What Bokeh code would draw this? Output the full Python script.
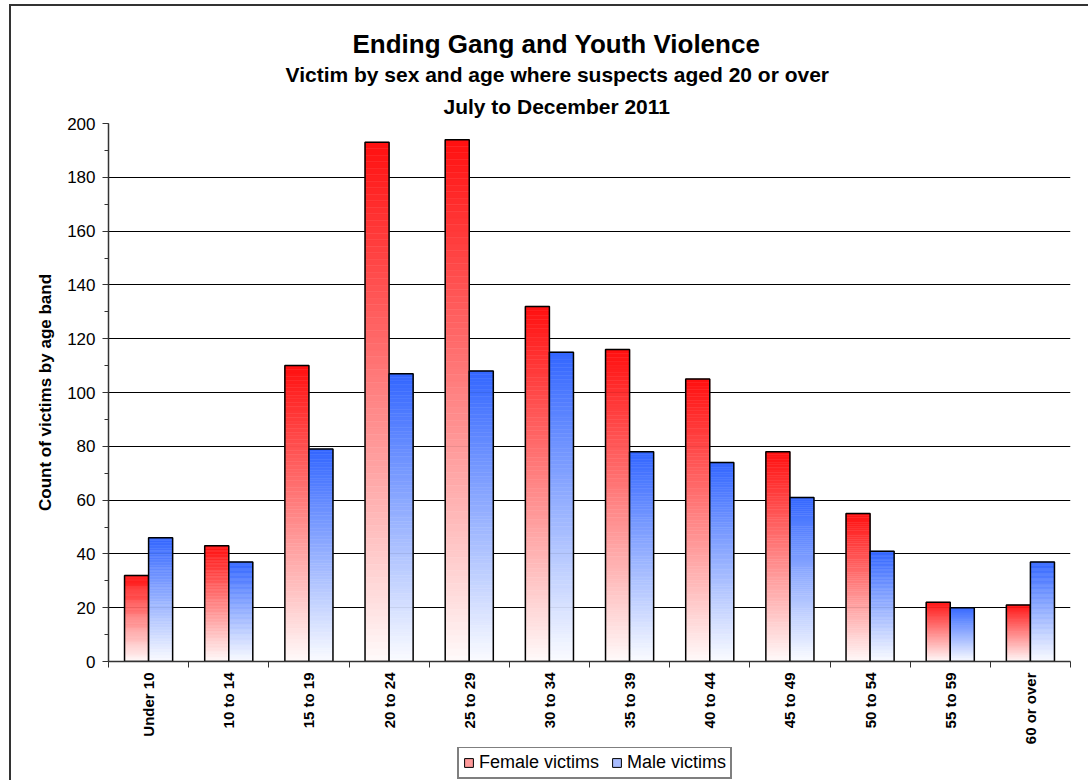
from bokeh.plotting import figure
from bokeh.models import (Range1d, FixedTicker, SingleIntervalTicker, Title, Legend,
                          LegendItem, ColumnDataSource)
from bokeh.layouts import column
from bokeh.embed import file_html
from bokeh.resources import INLINE
import math

# ---- data ----
categories = ["Under 10", "10 to 14", "15 to 19", "20 to 24", "25 to 29", "30 to 34",
              "35 to 39", "40 to 44", "45 to 49", "50 to 54", "55 to 59", "60 or over"]
female = [32, 43, 110, 193, 194, 132, 116, 105, 78, 55, 22, 21]
male = [46, 37, 79, 107, 108, 115, 78, 74, 61, 41, 20, 37]
series_names = ["Female victims", "Male victims"]
title_lines = ["Ending Gang and Youth Violence",
               "Victim by sex and age where suspects aged 20 or over",
               "July to December 2011"]
y_label = "Count of victims by age band"

FONT = "Liberation Sans"
RED = (255, 16, 16)
BLUE = (51, 102, 255)
WHITE = (255, 255, 255)

W = 1077
p = figure(width=W, height=741, output_backend="svg", toolbar_location=None,
           x_range=Range1d(0, len(categories)), y_range=Range1d(0, 200),
           min_border_left=97, min_border_right=18, min_border_top=117,
           min_border_bottom=86)
p.outline_line_color = None
p.background_fill_color = "white"
p.border_fill_color = "white"


def mix(c, t):
    r = int(round(WHITE[0] + (c[0] - WHITE[0]) * t))
    g = int(round(WHITE[1] + (c[1] - WHITE[1]) * t))
    b = int(round(WHITE[2] + (c[2] - WHITE[2]) * t))
    return "#%02x%02x%02x" % (r, g, b)


N = 80
bar_w = 0.3
for vals, base, off in [(female, RED, -0.15), (male, BLUE, 0.15)]:
    L, R, B, T, C = [], [], [], [], []
    for i, v in enumerate(vals):
        cx = i + 0.5 + off
        for k in range(N):
            L.append(cx - bar_w / 2)
            R.append(cx + bar_w / 2)
            B.append(v * k / N)
            T.append(v * (k + 1) / N)
            C.append(mix(base, 0.02 + 0.98 * (k + 0.5) / N))
    src = ColumnDataSource(dict(left=L, right=R, bottom=B, top=T, color=C))
    p.quad(left="left", right="right", bottom="bottom", top="top", source=src,
           fill_color="color", line_color="color", line_width=0.5)
    xs = [i + 0.5 + off for i in range(len(vals))]
    p.vbar(x=xs, top=vals, width=bar_w, bottom=0, fill_color=None,
           line_color="black", line_width=1.5)

# y axis
p.yaxis.ticker = SingleIntervalTicker(interval=20, num_minor_ticks=2)
p.yaxis.axis_line_color = "#333333"
p.yaxis.axis_line_width = 1.5
p.yaxis.major_tick_line_color = "#333333"
p.yaxis.minor_tick_line_color = "#333333"
p.yaxis.major_tick_out = 6
p.yaxis.major_tick_in = 0
p.yaxis.minor_tick_out = 4
p.yaxis.minor_tick_in = 0
p.yaxis.major_label_text_font = FONT
p.yaxis.major_label_text_font_size = "17px"
p.yaxis.major_label_text_color = "black"
p.yaxis.major_label_standoff = 7
p.yaxis.axis_label = y_label
p.yaxis.axis_label_text_font = FONT
p.yaxis.axis_label_text_font_size = "17px"
p.yaxis.axis_label_text_font_style = "bold"
p.yaxis.axis_label_text_color = "black"
p.yaxis.axis_label_standoff = 9

# x axis
centers = [i + 0.5 for i in range(len(categories))]
bounds = [float(i) for i in range(len(categories) + 1)]
p.xaxis.ticker = FixedTicker(ticks=centers, minor_ticks=bounds)
p.xaxis.major_label_overrides = {c: lab for c, lab in zip(centers, categories)}
p.xaxis.major_label_orientation = math.pi / 2
p.xaxis.major_label_text_font = FONT
p.xaxis.major_label_text_font_size = "15px"
p.xaxis.major_label_text_font_style = "bold"
p.xaxis.major_label_text_color = "black"
p.xaxis.major_label_standoff = 5
p.xaxis.major_tick_line_color = None
p.xaxis.minor_tick_line_color = "#333333"
p.xaxis.minor_tick_out = 6
p.xaxis.minor_tick_in = 0
p.xaxis.axis_line_color = "#333333"
p.xaxis.axis_line_width = 1.5

# grid
p.xgrid.grid_line_color = None
p.ygrid.grid_line_color = "black"
p.ygrid.grid_line_width = 1
p.ygrid.ticker = SingleIntervalTicker(interval=20)

# titles (closest to plot first)
for txt, size, off, so in [(title_lines[2], "21px", 335, 12),
                           (title_lines[1], "21px", 177, 2),
                           (title_lines[0], "26px", 244, 2)]:
    p.add_layout(Title(text=txt, align="left", offset=off, standoff=so,
                       text_font=FONT, text_font_size=size, text_font_style="bold",
                       text_color="black"), "above")

# ---- legend strip ----
lf = figure(width=W, height=33, output_backend="svg", toolbar_location=None,
            x_range=Range1d(0, 1), y_range=Range1d(0, 1),
            min_border_left=0, min_border_right=0, min_border_top=0,
            min_border_bottom=0)
lf.axis.visible = False
lf.grid.visible = False
lf.outline_line_color = None
lf.border_fill_color = "white"
lf.background_fill_color = "white"
r_f = lf.quad(left=[-5], right=[-4], bottom=[-5], top=[-4],
              fill_color="#ff9a9a", line_color="black", line_width=1)
r_m = lf.quad(left=[-5], right=[-4], bottom=[-5], top=[-4],
              fill_color="#a8bcff", line_color="black", line_width=1)
legend = Legend(items=[LegendItem(label=series_names[0], renderers=[r_f]),
                       LegendItem(label=series_names[1], renderers=[r_m])],
                orientation="horizontal", location=(349, 1))
legend.label_text_font = FONT
legend.label_text_font_size = "18px"
legend.label_text_color = "black"
legend.glyph_width = 11
legend.glyph_height = 11
legend.label_standoff = 5
legend.spacing = 12
legend.padding = 4
legend.margin = 0
legend.border_line_color = "black"
legend.border_line_width = 2.5
legend.background_fill_color = "white"
legend.background_fill_alpha = 1
lf.add_layout(legend, "center")

layout = column(p, lf, spacing=0)
layout.styles = {"border-left": "2px solid #333333", "border-top": "2px solid #333333",
                 "margin-left": "9px", "margin-top": "4px"}

open("out.html", "w").write(file_html(layout, INLINE))
